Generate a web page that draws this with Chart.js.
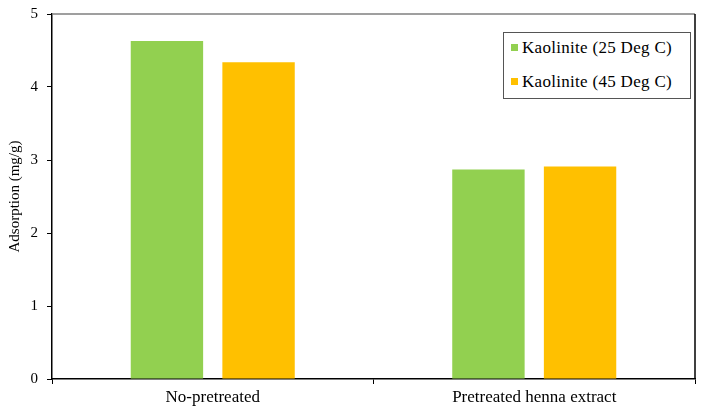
<!DOCTYPE html>
<html lang="en">
<head>
  <meta charset="UTF-8" />
  <title>Adsorption</title>
  <script src="https://cdn.jsdelivr.net/npm/chart.js"></script>
  <style>
    html, body { margin: 0; padding: 0; background: #fff; }
    #wrap { position: relative; width: 721px; height: 408px; }
    #legend {
      position: absolute;
      left: 503px; top: 32px;
      width: 186px; height: 65px;
      border: 1px solid #555;
      font-family: 'Liberation Serif', serif;
      font-size: 17px;
      letter-spacing: 0.3px;
      color: #000;
      background: #fff;
    }
    #legend div { position: absolute; left: 7px; white-space: nowrap; }
    #legend span.box {
      display: inline-block; width: 7px; height: 7px; margin-right: 4px;
      vertical-align: 2px;
    }
  </style>
</head>
<body>
  <div id="wrap">
    <canvas id="chart" width="721" height="408"></canvas>
    <div id="legend"></div>
  </div>

  <script>
    const categories = ['No-pretreated', 'Pretreated henna extract'];
    const seriesNames = ['Kaolinite (25 Deg C)', 'Kaolinite (45 Deg C)'];
    const temp25 = [4.63, 2.87];
    const temp45 = [4.34, 2.91];
    const colors = ['#92D050', '#FFC000'];

    const serif = 'Liberation Serif, Times New Roman, serif';

    // frame around the plot area (top grey, others black)
    const framePlugin = {
      id: 'frame',
      afterDraw(chart) {
        const a = chart.chartArea;
        const c = chart.ctx;
        c.save();
        c.lineWidth = 1.5;
        c.strokeStyle = '#7f7f7f';
        c.beginPath();
        c.moveTo(a.left, a.top);
        c.lineTo(a.right, a.top);
        c.stroke();
        c.strokeStyle = '#000';
        c.beginPath();
        c.moveTo(a.right, a.top);
        c.lineTo(a.right, a.bottom);
        c.stroke();
        c.restore();
      }
    };

    const chart = new Chart(document.getElementById('chart'), {
      type: 'bar',
      data: {
        labels: categories,
        datasets: [
          { label: seriesNames[0], data: temp25, backgroundColor: colors[0] },
          { label: seriesNames[1], data: temp45, backgroundColor: colors[1] }
        ]
      },
      options: {
        responsive: false,
        animation: false,
        categoryPercentage: 0.57,
        barPercentage: 0.79,
        layout: { padding: { top: 14, right: 26, left: 0, bottom: 0 } },
        plugins: {
          legend: { display: false },
          tooltip: { enabled: false }
        },
        scales: {
          x: {
            afterFit(s) { s.height = 29; },
            border: { color: '#000', width: 1.5 },
            grid: { drawOnChartArea: false, tickLength: 5, color: '#000', offset: true },
            ticks: { color: '#000', padding: 3, font: { family: serif, size: 17 } }
          },
          y: {
            min: 0, max: 5,
            afterFit(s) { s.width = 52; s.paddingTop = 0; s.paddingBottom = 0; },
            border: { color: '#000', width: 1.5 },
            grid: { drawOnChartArea: false, tickLength: 5, color: '#000' },
            ticks: { stepSize: 1, color: '#000', padding: 9, font: { family: serif, size: 15 } },
            title: {
              display: true, text: 'Adsorption (mg/g)', color: '#000',
              padding: { top: 6, bottom: 0 },
              font: { family: serif, size: 15 }
            }
          }
        }
      },
      plugins: [framePlugin]
    });

    // legend built from the datasets
    const legend = document.getElementById('legend');
    chart.data.datasets.forEach((ds, i) => {
      const row = document.createElement('div');
      row.style.top = (i === 0 ? 5 : 39) + 'px';
      row.innerHTML = '<span class="box" style="background:' + ds.backgroundColor + '"></span>' + ds.label;
      legend.appendChild(row);
    });
  </script>
</body>
</html>
